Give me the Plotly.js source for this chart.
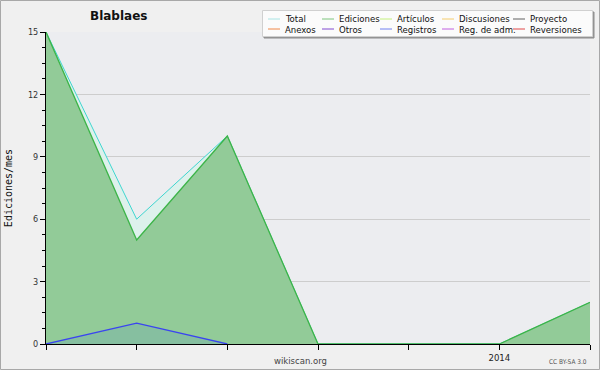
<!DOCTYPE html>
<html><head><meta charset="utf-8">
<script src="https://cdn.plot.ly/plotly-3.0.1.min.js"></script>
<style>html,body{margin:0;padding:0;background:#f0f0f0;}#c{width:600px;height:370px;}</style>
</head><body><div id="c"></div>
<script>
// ---- data ----
var months = ['2013-08','2013-09','2013-10','2013-11','2013-12','2014-01','2014-02'];
var tickLabels = ['','','','','','2014',''];
var total     = [15, 6, 10, 0, 0, 0, 2];
var ediciones = [15, 5, 10, 0, 0, 0, 2];
var registros = [0, 1, 0, null, null, null, null];
var seriesNames  = ['Total','Ediciones','Artículos','Discusiones','Proyecto','Anexos','Otros','Registros','Reg. de adm.','Reversiones'];
var seriesColors = ['#a8e4e4','#7cc47c','#c4f07c','#f4cc6c','#606060','#f08848','#8048d0','#7080f0','#c060e0','#e04848'];

// ---- layout constants ----
var L = 46, R = 590, T = 32, B = 344;
var W = R - L, H = B - T;
function px(x){ return (x - L) / W; }
function py(y){ return (B - y) / H; }

var traces = [
  {x: months, y: total, type:'scatter', mode:'lines', fill:'tozeroy',
   line:{color:'#3ed6d0', width:1}, fillcolor:'#ddf1ec', showlegend:false, hoverinfo:'skip'},
  {x: months, y: ediciones, type:'scatter', mode:'lines', fill:'tozeroy',
   line:{color:'#3cb448', width:1.3}, fillcolor:'#92cb98', showlegend:false, hoverinfo:'skip'},
  {x: months, y: registros, type:'scatter', mode:'lines', fill:'tozeroy',
   line:{color:'#3a44f0', width:1.3}, fillcolor:'#86bfa0', showlegend:false, hoverinfo:'skip'}
];

var shapes = [
  // outer border
  {type:'rect', xref:'paper', yref:'paper', x0:px(0.5), x1:px(599.5), y0:py(369.5), y1:py(0.5),
   line:{color:'#a8a8a8', width:1}, layer:'below'},
  // legend shadow + box
  {type:'rect', xref:'paper', yref:'paper', x0:px(264), x1:px(594), y0:py(38), y1:py(12),
   line:{color:'#8c8c8c', width:1}, fillcolor:'#9a9a9a'},
  {type:'rect', xref:'paper', yref:'paper', x0:px(262.5), x1:px(592.5), y0:py(36.5), y1:py(10.5),
   line:{color:'#d0d0d0', width:1}, fillcolor:'#fbfbfb'}
];
var annotations = [
  {text:'<b>Blablaes</b>', xref:'paper', yref:'paper', x:px(118), y:py(16), xanchor:'center', yanchor:'middle',
   showarrow:false, font:{family:'DejaVu Sans', size:12, color:'#111'}},
  {text:'wikiscan.org', xref:'paper', yref:'paper', x:px(300), y:py(361), xanchor:'center', yanchor:'middle',
   showarrow:false, font:{family:'DejaVu Sans', size:8.5, color:'#444'}},
  {text:'CC BY-SA 3.0', xref:'paper', yref:'paper', x:px(589), y:py(362), xanchor:'right', yanchor:'middle',
   showarrow:false, font:{family:'DejaVu Sans Condensed', size:6.5, color:'#555'}}
];
var colX = [268, 322, 380, 442, 513];
var rowY = [19, 29];
for (var i = 0; i < seriesNames.length; i++) {
  var c = i % 5, r = Math.floor(i / 5);
  var x0 = colX[c];
  shapes.push({type:'line', xref:'paper', yref:'paper', x0:px(x0), x1:px(x0+12), y0:py(rowY[r]), y1:py(rowY[r]),
    line:{color:seriesColors[i], width:1}});
  annotations.push({text:seriesNames[i], xref:'paper', yref:'paper', x:px(x0+15), y:py(rowY[r]),
    xanchor:'left', yanchor:'middle', showarrow:false,
    font:{family:'DejaVu Sans Condensed', size:9.5, color:'#111'}});
}

var layout = {
  width:600, height:370,
  margin:{l:L, r:600-R, t:T, b:370-B, pad:0},
  paper_bgcolor:'#f0f0f0', plot_bgcolor:'#ecedf0',
  showlegend:false,
  xaxis:{type:'category', range:[0,6], tickmode:'array', tickvals:months, ticktext:tickLabels,
    showgrid:false, zeroline:false, showline:true, linecolor:'#000', linewidth:1,
    ticks:'outside', ticklen:5, tickcolor:'#000', tickwidth:1,
    tickfont:{family:'DejaVu Sans Condensed', size:9.5, color:'#222'}, fixedrange:true},
  yaxis:{range:[0,15], dtick:3, tick0:0, showgrid:true, gridcolor:'#cdcdcd', gridwidth:1,
    zeroline:false, showline:true, linecolor:'#000', linewidth:1,
    ticks:'outside', ticklen:5, tickcolor:'#000', tickwidth:1,
    minor:{dtick:0.75, ticks:'outside', ticklen:3, tickcolor:'#000', showgrid:false},
    tickfont:{family:'DejaVu Sans Condensed', size:9, color:'#333'},
    title:{text:'Ediciones/mes', standoff:13, font:{family:'DejaVu Sans Mono', size:10, color:'#111'}},
    fixedrange:true},
  shapes:shapes, annotations:annotations
};
Plotly.newPlot('c', traces, layout, {staticPlot:true, displayModeBar:false});
</script></body></html>
